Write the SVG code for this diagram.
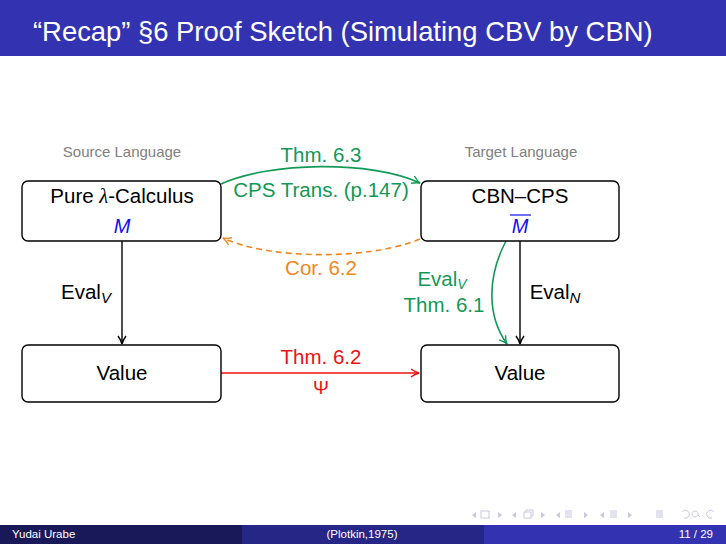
<svg xmlns="http://www.w3.org/2000/svg" width="726" height="544" viewBox="0 0 726 544">
<style>
.node rect{fill:#fff;stroke:#000;stroke-width:1.4}
.t{font-family:"Liberation Sans",Arial,sans-serif;text-anchor:middle}
.nt{font-size:20.5px;fill:#000}
.lab{font-size:15px;fill:#808080}
.el{font-size:20.5px}
.g{fill:#119955}
.o{fill:#EE8822}
.r{fill:#EE1111}
.b{fill:#1010EE;font-style:italic}
.nav{fill:none;stroke:#C8C8E0;stroke-width:1}
.navf{fill:#C8C8E0}
.ft{font-family:"Liberation Sans",Arial,sans-serif;font-size:11.5px;fill:#fff}
</style>
<defs>
<marker id="ak" viewBox="0 0 10 10" refX="9" refY="5" markerWidth="10" markerHeight="10" markerUnits="userSpaceOnUse" orient="auto"><path d="M1,1 Q5,4 9,5 Q5,6 1,9" fill="none" stroke="#000" stroke-width="1.4"/></marker>
<marker id="ag" viewBox="0 0 10 10" refX="9" refY="5" markerWidth="10" markerHeight="10" markerUnits="userSpaceOnUse" orient="auto"><path d="M1,1 Q5,4 9,5 Q5,6 1,9" fill="none" stroke="#119955" stroke-width="1.4"/></marker>
<marker id="ao" viewBox="0 0 10 10" refX="9" refY="5" markerWidth="10" markerHeight="10" markerUnits="userSpaceOnUse" orient="auto"><path d="M1,1 Q5,4 9,5 Q5,6 1,9" fill="none" stroke="#EE8822" stroke-width="1.4"/></marker>
<marker id="ar" viewBox="0 0 10 10" refX="9" refY="5" markerWidth="10" markerHeight="10" markerUnits="userSpaceOnUse" orient="auto"><path d="M1,1 Q5,4 9,5 Q5,6 1,9" fill="none" stroke="#EE1111" stroke-width="1.4"/></marker>
</defs>
<rect width="726" height="544" fill="#fff"/>
<g id="header">
<rect x="0" y="0" width="726" height="56" fill="#3333B2"/>
<text x="33" y="41" font-family="Liberation Sans,Arial,sans-serif" font-size="27.4" fill="#fff">“Recap” §6 Proof Sketch (Simulating CBV by CBN)</text>
</g>
<text class="t lab" x="122" y="157">Source Language</text>
<text class="t lab" x="521" y="157">Target Language</text>
<g id="connectors">
<path d="M122,241 V344" stroke="#000" stroke-width="1.4" fill="none" marker-end="url(#ak)"/>
<path d="M520,241 V344" stroke="#000" stroke-width="1.4" fill="none" marker-end="url(#ak)"/>
<path d="M221,184 C270,162 370,160 420,183" stroke="#119955" stroke-width="1.6" fill="none" marker-end="url(#ag)"/>
<path d="M420,239 C370,260 270,260 223,238" stroke="#EE8822" stroke-width="1.6" fill="none" stroke-dasharray="6,4" marker-end="url(#ao)"/>
<path d="M221,373 H419" stroke="#EE1111" stroke-width="1.6" fill="none" marker-end="url(#ar)"/>
<path d="M506,241 C488,275 486,315 507,344" stroke="#119955" stroke-width="1.6" fill="none" marker-end="url(#ag)"/>
<text class="t g el" x="321" y="162">Thm. 6.3</text>
<text class="t g el" x="321" y="197">CPS Trans. (p.147)</text>
<text class="t o el" x="321" y="275">Cor. 6.2</text>
<text class="t r el" x="321" y="364">Thm. 6.2</text>
<text class="t r" x="321" y="394" font-size="19" font-family="Liberation Serif,serif">Ψ</text>
<text class="t g el" x="442" y="286">Eval<tspan font-style="italic" font-size="14" dy="3">V</tspan></text>
<text class="t g el" x="444" y="312">Thm. 6.1</text>
<text class="t el" x="86" y="299">Eval<tspan font-style="italic" font-size="15" dy="4">V</tspan></text>
<text class="t el" x="555" y="299">Eval<tspan font-style="italic" font-size="15" dy="4">N</tspan></text>
</g>
<g id="source" class="node">
<rect x="22" y="181" width="199" height="60" rx="6"/>
<text class="t nt" x="122" y="203">Pure <tspan font-family="Liberation Serif,serif" font-style="italic">λ</tspan>-Calculus</text>
<text class="t b" x="122" y="233" font-size="20">M</text>
</g>
<g id="target" class="node">
<rect x="421" y="181" width="198" height="60" rx="6"/>
<text class="t nt" x="520" y="203">CBN–CPS</text>
<text class="t b" x="520" y="233" font-size="20">M</text>
<line x1="510" y1="215" x2="531" y2="215" stroke="#1010EE" stroke-width="1.2"/>
</g>
<g id="value-left" class="node">
<rect x="22" y="345" width="199" height="57" rx="6"/>
<text class="t nt" x="122" y="380">Value</text>
</g>
<g id="value-right" class="node">
<rect x="421" y="345" width="198" height="57" rx="6"/>
<text class="t nt" x="520" y="380">Value</text>
</g>
<g id="nav">
<path class="navf" d="M476,512 l-4,3 l4,3z M498,512 l4,3 l-4,3z M516,512 l-4,3 l4,3z M541,512 l4,3 l-4,3z M560,512 l-4,3 l4,3z M584,512 l4,3 l-4,3z M604,512 l-4,3 l4,3z M628,512 l4,3 l-4,3z"/>
<rect class="nav" x="481" y="511" width="8" height="7"/>
<rect class="nav" x="524" y="512" width="7" height="6"/>
<path class="nav" d="M526,512 v-2 h7 v6 h-2"/>
<path class="nav" d="M565,511 h7 M565,513 h7 M565,515 h7 M565,517 h7 M610,511 h7 M610,513 h7 M610,515 h7 M610,517 h7 M656,511 h7 M656,513 h7 M656,515 h7 M656,517 h7"/>
<path class="nav" d="M682,512 a4,4 0 1 1 2,6 M695,511 a3,3 0 1 0 0.1,0 M698,515 l2,2 M714,512 a4,4 0 1 0 -2,6"/>
</g>
<g id="footer">
<rect x="0" y="525" width="242" height="19" fill="#191959"/>
<rect x="242" y="525" width="242" height="19" fill="#262686"/>
<rect x="484" y="525" width="242" height="19" fill="#3333B2"/>
<text class="ft" x="12" y="538">Yudai Urabe</text>
<text class="ft" x="362" y="538" text-anchor="middle">(Plotkin,1975)</text>
<text class="ft" x="713" y="538" text-anchor="end">11 / 29</text>
</g>
</svg>
